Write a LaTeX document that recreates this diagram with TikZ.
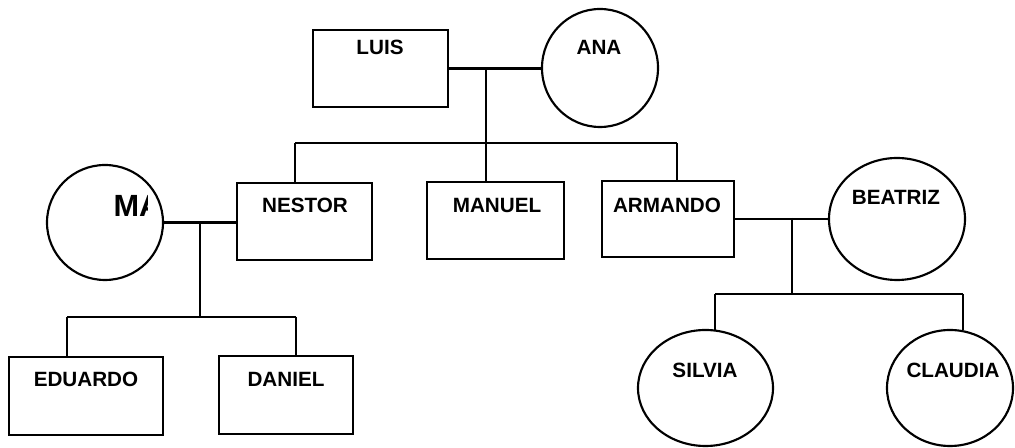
\documentclass[tikz,border=0pt]{standalone}
\usepackage{fontspec}
\setmainfont{Liberation Sans}
\usetikzlibrary{shapes.geometric}

\tikzset{every picture/.style={line width=0.75pt}}
\tikzset{
  varon/.style={draw, rectangle, inner sep=0pt, outer sep=0pt, line width=1.8pt, minimum width=101.25pt, minimum height=57.75pt},
  mujer/.style={draw, ellipse, inner sep=0pt, outer sep=0pt, line width=1.6pt},
  nombre/.style={font=\bfseries\fontsize{15.5}{18}\selectfont, inner sep=0pt},
  enlace/.style={line width=1.8pt},
}

\begin{document}
\begin{tikzpicture}[x=0.75pt,y=0.75pt,yscale=-1,xscale=1]
	\useasboundingbox (0,0) rectangle (1015,448);

	%Shape: Rectangle
	\node [varon] (luis) at (380.5,68.5) {};
	%Shape: Ellipse
	\node [mujer, minimum width=87pt, minimum height=88.5pt] (ana) at (600,68) {};
	%Shape: Ellipse
	\node [mujer, minimum width=87pt, minimum height=86.25pt] (ma) at (105,222.5) {};
	%Shape: Rectangle
	\node [varon] (nestor) at (304.5,221.5) {};
	%Shape: Rectangle
	\node [varon, minimum width=102.75pt] (manuel) at (495.5,220.5) {};
	%Shape: Rectangle
	\node [varon, minimum width=99pt, minimum height=57pt] (armando) at (668,219) {};
	%Shape: Ellipse
	\node [mujer, minimum width=102pt, minimum height=91.5pt] (beatriz) at (897,219) {};
	%Shape: Rectangle
	\node [varon, minimum width=115.5pt, minimum height=58.5pt] (eduardo) at (86,396) {};
	%Shape: Rectangle
	\node [varon, minimum width=100.5pt, minimum height=58.5pt] (daniel) at (286,395) {};
	%Shape: Ellipse
	\node [mujer, minimum width=101.25pt, minimum height=87pt] (silvia) at (705.5,388) {};
	%Shape: Ellipse
	\node [mujer, minimum width=94.5pt, minimum height=87pt] (claudia) at (950,388) {};

	%Straight Lines
	\coordinate (u1) at (486,68);
	\coordinate (h1) at (486,143);
	\coordinate (c-nestor) at (295,143);
	\coordinate (c-armando) at (677,143);
	\draw [enlace] (luis.east) -- (luis.east -| ana.west);
	\draw [enlace] (u1) -- (h1);
	\draw [enlace] (c-nestor) -- (c-armando);
	\foreach \c/\n in {c-nestor/nestor, h1/manuel, c-armando/armando}
		\draw [enlace] (\c) -- (\c |- \n.north);

	%Straight Lines
	\coordinate (u2) at (200,222);
	\coordinate (h2) at (200,317);
	\coordinate (c-eduardo) at (67,317);
	\coordinate (c-daniel) at (296,317);
	\draw [enlace] (ma.east) -- (ma.east -| nestor.west);
	\draw [enlace] (u2) -- (h2);
	\draw [enlace] (c-eduardo) -- (c-daniel);
	\foreach \c/\n in {c-eduardo/eduardo, c-daniel/daniel}
		\draw [enlace] (\c) -- (\c |- \n.north);

	%Straight Lines
	\coordinate (u3) at (792,218);
	\coordinate (h3) at (792,294);
	\coordinate (c-silvia) at (715,294);
	\coordinate (c-claudia) at (963,294);
	\draw [enlace] (armando.east) -- (armando.east -| beatriz.west);
	\draw [enlace] (u3) -- (h3);
	\draw [enlace] (c-silvia) -- (c-claudia);
	\foreach \c/\n in {c-silvia/silvia, c-claudia/claudia}
		\draw [enlace] (\c) -- (\c |- \n.north);

	% Text Node
	\node [nombre] (t-luis) at (380,47) {LUIS};
	% Text Node
	\node [nombre] (t-ana) at (599,47) {ANA};
	% Text Node
	\begin{scope}
		\clip (100,180) rectangle (147,240);
		\node [nombre, font=\bfseries\fontsize{23}{26}\selectfont, anchor=west] (t-ma) at (113,206) {MA};
	\end{scope}
	% Text Node
	\node [nombre] (t-nestor) at (305,205) {NESTOR};
	% Text Node
	\node [nombre] (t-manuel) at (497,205) {MANUEL};
	% Text Node
	\node [nombre] (t-armando) at (667,205) {ARMANDO};
	% Text Node
	\node [nombre] (t-beatriz) at (896,197) {BEATRIZ};
	% Text Node
	\node [nombre] (t-eduardo) at (86,379) {EDUARDO};
	% Text Node
	\node [nombre] (t-daniel) at (286,379) {DANIEL};
	% Text Node
	\node [nombre] (t-silvia) at (705,370) {SILVIA};
	% Text Node
	\node [nombre] (t-claudia) at (953,370) {CLAUDIA};

\end{tikzpicture}
\end{document}
